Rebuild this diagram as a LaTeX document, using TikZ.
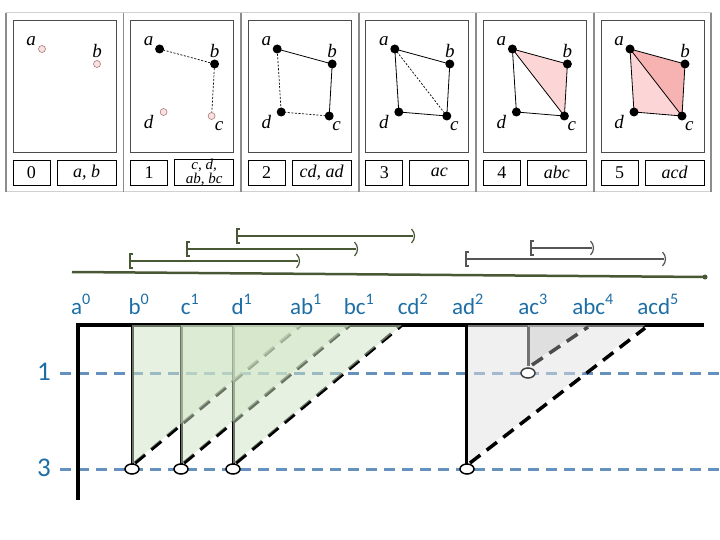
\documentclass[tikz,border=0pt]{standalone}
\usepackage{fontspec}
\setmainfont{Carlito}
\newfontfamily\panelfont{Liberation Serif}
\usetikzlibrary{positioning, shapes.geometric}

\definecolor{barblue}{RGB}{100,145,190}
\definecolor{labelblue}{RGB}{30,110,165}
\definecolor{bargreen}{RGB}{72,88,52}
\definecolor{bargray}{RGB}{85,85,85}
\definecolor{greenfill}{RGB}{208,228,196}
\definecolor{grayfill}{RGB}{226,226,226}
\definecolor{graydeep}{RGB}{205,205,205}
\definecolor{pinkdot}{RGB}{250,225,225}
\definecolor{pinkrim}{RGB}{170,120,120}
\definecolor{pinklight}{RGB}{252,214,214}
\definecolor{pinkdark}{RGB}{247,178,178}

\begin{document}
\begin{tikzpicture}[x=1pt, y=-1pt,
  every node/.style={inner sep=0pt},
  vert/.style={circle, fill=black, minimum size=9pt},
  pend/.style={circle, draw=pinkrim, fill=pinkdot, line width=0.6pt, minimum size=7pt},
  edge/.style={line width=0.8pt},
  later/.style={line width=0.7pt, dash pattern=on 2pt off 1.6pt},
  ptlab/.style={font=\panelfont\itshape\fontsize{19}{19}\selectfont},
  tag/.style={draw, line width=0.8pt, minimum height=25pt, font=\panelfont\fontsize{18}{18}\selectfont},
  level/.style={barblue, line width=3pt, dash pattern=on 11pt off 7pt},
  diag/.style={line width=3.5pt, dash pattern=on 13pt off 8pt},
  bar/.style={line width=3pt},
  death/.style={ellipse, draw, fill=white, line width=1.5pt, minimum width=14pt, minimum height=10pt},
  simp/.style={text=labelblue, font=\fontsize{23}{23}\selectfont},
  lvl/.style={text=labelblue, font=\fontsize{27}{27}\selectfont}]

\useasboundingbox (0,0) rectangle (720,540);

% filtration panels
\draw[black!18, line width=1pt] (6,13) rectangle (711,192);
\foreach \x in {6,123.5,241,359,476,594,711}
  \draw[black!45, line width=1.5pt] (\x,13) -- (\x,192);
\foreach \i [evaluate=\i as \x using 13+117.6*\i] in {0,...,5} {
  \draw[black!70, line width=0.8pt] (\x,20) rectangle ++(103,132);
  \node[tag, minimum width=37pt] (num\i) at (\x+18.5,172.5) {\i};
  \coordinate (a\i) at (\x+29,49);
  \coordinate (b\i) at (\x+84,64);
  \coordinate (c\i) at (\x+81,116);
  \coordinate (d\i) at (\x+33,112);
  \node[ptlab, above left=3pt and 6pt of a\i] (la\i) {a};
  \node[ptlab, above=6pt of b\i] (lb\i) {b};
}
\foreach \i in {1,...,5} {
  \node[ptlab, below left=3pt and 10pt of d\i] (ld\i) {d};
  \node[ptlab, below right=5pt and 3pt of c\i] (lc\i) {c};
}
\foreach \i/\t in {0/{a, b}, 2/{cd, ad}, 3/{ac}, 4/{abc}, 5/{acd}}
  \node[tag, minimum width=59pt, font=\panelfont\itshape\fontsize{18}{18}\selectfont] (new\i) at (13+117.6*\i+73.5,172.5) {\t};
\node[tag, minimum width=59pt, align=center, font=\panelfont\itshape\fontsize{15}{9.5}\selectfont] (new1) at (13+117.6+73.5,172.5) {c, d,\\ab, bc};

% simplices
\fill[pinklight] (a4) -- (b4) -- (c4) -- cycle;
\fill[pinkdark] (a5) -- (b5) -- (c5) -- cycle;
\fill[pinklight] (a5) -- (c5) -- (d5) -- cycle;
\draw[later] (a1) -- (b1) -- (c1);
\draw[edge] (a2) -- (b2) -- (c2);
\draw[later] (c2) -- (d2) -- (a2);
\foreach \i in {3,4,5}
  \draw[edge] (a\i) -- (b\i) -- (c\i) -- (d\i) -- cycle;
\draw[later] (a3) -- (c3);
\draw[edge] (a4) -- (c4);
\draw[edge] (a5) -- (c5);
\node[pend] (va0) at (a0) {};
\node[pend] (vb0) at (b0) {};
\node[pend] (vc1) at (c1) {};
\node[pend] (vd1) at (d1) {};
\node[vert] (va1) at (a1) {};
\node[vert] (vb1) at (b1) {};
\foreach \i in {2,...,5} {
  \node[vert] (va\i) at (a\i) {};
  \node[vert] (vb\i) at (b\i) {};
  \node[vert] (vc\i) at (c\i) {};
  \node[vert] (vd\i) at (d\i) {};
}

% barcode
\draw[bargreen, line width=2.5pt] (72,272) -- (705,277);
\fill[bargreen] (705,277) circle (2.5);
\foreach \lo/\hi/\y/\c in {130/298/261/bargreen, 187/356/249/bargreen, 237/413/236/bargreen, 466/664/259/bargray, 531/592/248/bargray} {
  \draw[\c, line width=2.5pt] (\lo,\y) -- (\hi,\y);
  \draw[\c, line width=1.2pt] (\lo+3,\y-7) -- (\lo,\y-7) -- (\lo,\y+7) -- (\lo+3,\y+7);
  \draw[\c, line width=1.2pt] (\hi-1.5,\y-7) .. controls (\hi+2.5,\y-3) and (\hi+2.5,\y+3) .. (\hi-1.5,\y+7);
}
\foreach \x/\t [count=\k] in {81/a\textsuperscript{0}, 139/b\textsuperscript{0}, 190/c\textsuperscript{1}, 242/d\textsuperscript{1}, 306/ab\textsuperscript{1}, 359/bc\textsuperscript{1}, 413/cd\textsuperscript{2}, 468/ad\textsuperscript{2}, 533/ac\textsuperscript{3}, 593/abc\textsuperscript{4}, 658/acd\textsuperscript{5}}
  \node[simp, anchor=base] (s\k) at (\x,314) {\t};

% persistence diagram
\draw[level] (60,373) -- (720,373);
\draw[level] (60,469) -- (720,469);
\node[lvl] (lev1) at (44,372) {1};
\node[lvl] (lev3) at (44,468) {3};
\draw[line width=3.5pt] (78,325) -- (704,325);
\draw[line width=4pt] (78,323.25) -- (78,500);
\foreach \x in {132,181,233} {
  \draw[bar] (\x,325) -- (\x,464);
  \draw[diag] (\x+3,463) -- (\x+169,325);
}
\foreach \x in {132,181,233}
  \fill[greenfill, fill opacity=0.5] (\x,325) -- (\x,464) -- (\x+169,325) -- cycle;
\fill[grayfill, fill opacity=0.5] (466,325) -- (466,464) -- (645,325) -- cycle;
\fill[graydeep, fill opacity=0.5] (528,325) -- (528,366) -- (588,325) -- cycle;
\draw[bar] (466,325) -- (466,464);
\draw[diag] (470,463) -- (645,328);
\draw[bar, black!55] (528,326.5) -- (528,366);
\draw[diag, black!70] (532,365) -- (588,327);
\foreach \x/\n in {132/b0, 181/c1, 233/d1, 467/ad2}
  \node[death] (death-\n) at (\x,469) {};
\node[death, draw=black!75] (death-ac3) at (528,373) {};
\end{tikzpicture}
\end{document}
